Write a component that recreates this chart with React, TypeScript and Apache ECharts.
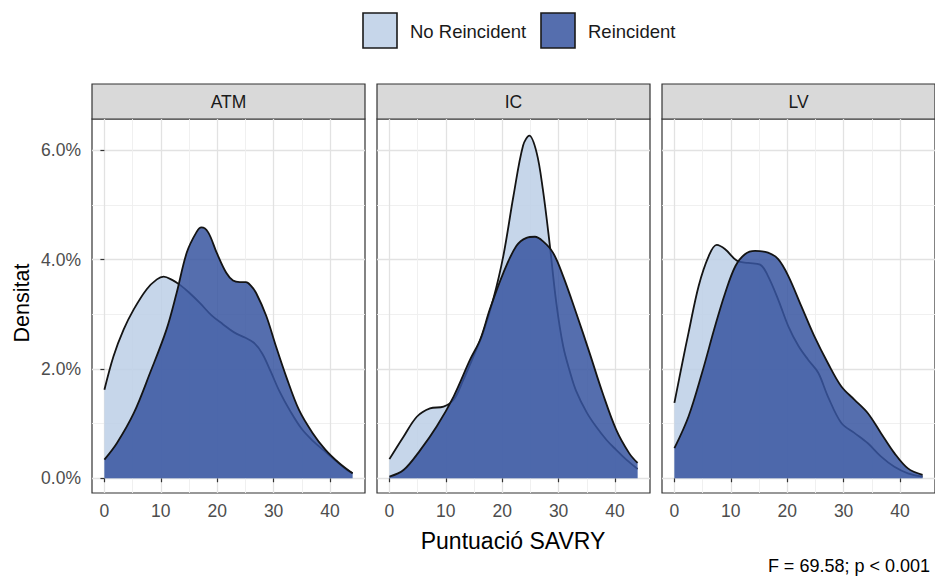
import React, { useEffect, useRef } from 'react';
import * as echarts from 'echarts';

const FONT = '"Liberation Sans", Arial, Helvetica, sans-serif';

const panels = ['ATM', 'IC', 'LV'];
const groups = ['No Reincident', 'Reincident'];
const xAxisTitle = 'Puntuació SAVRY';
const yAxisTitle = 'Densitat';
const note = 'F = 69.58; p < 0.001';

const xTicks = [0, 10, 20, 30, 40];
const xMinorTicks = [5, 15, 25, 35];
const yTicks = [0, 2, 4, 6];
const yMinorTicks = [1, 3, 5];

// density in percent
const atmNoX = [0, 1.6, 3.4, 5.2, 7.5, 9.3, 10.5, 12, 13.5, 15, 17, 19, 21, 23, 25, 26.5, 28, 29.5, 31, 33, 35, 37, 39, 41, 43, 44];
const atmNoY = [1.62, 2.23, 2.72, 3.09, 3.46, 3.64, 3.69, 3.63, 3.53, 3.40, 3.20, 2.98, 2.82, 2.67, 2.57, 2.48, 2.28, 1.95, 1.60, 1.22, 0.90, 0.68, 0.50, 0.32, 0.15, 0.09];
const atmReX = [0, 2.2, 5.2, 8.1, 11, 12.8, 14.6, 16.3, 17.2, 18.4, 19.9, 21.6, 22.8, 24, 25.1, 26, 26.9, 28.7, 30.4, 32.2, 34.5, 36.9, 39.2, 41.6, 44];
const atmReY = [0.34, 0.64, 1.19, 1.93, 2.72, 3.39, 4.13, 4.50, 4.59, 4.50, 4.13, 3.76, 3.62, 3.59, 3.59, 3.52, 3.39, 2.97, 2.42, 1.87, 1.25, 0.83, 0.52, 0.28, 0.09];

const icNoX = [0, 2.5, 4.9, 7.2, 9.6, 11.4, 13.1, 14.9, 16.6, 18.4, 20.2, 22, 23.7, 24.8, 26.1, 27.2, 28.4, 29.6, 30.8, 32, 33.1, 35, 36.6, 38.5, 40.2, 42, 44];
const icNoY = [0.35, 0.76, 1.13, 1.28, 1.31, 1.44, 1.80, 2.23, 2.66, 3.27, 4.07, 5.17, 6.09, 6.27, 5.96, 5.29, 4.30, 3.20, 2.42, 1.95, 1.60, 1.20, 0.95, 0.70, 0.52, 0.34, 0.17];
const icReX = [0, 2.5, 5.5, 8.4, 11.4, 14.3, 16.1, 17.8, 20.2, 22.5, 24.3, 25.8, 27.2, 29, 30.8, 33.1, 35.5, 37.8, 40.2, 42.5, 44];
const icReY = [0.03, 0.15, 0.52, 0.95, 1.50, 2.17, 2.54, 3.09, 3.76, 4.25, 4.40, 4.42, 4.34, 4.13, 3.70, 3.03, 2.29, 1.56, 0.89, 0.46, 0.28];

const lvNoX = [0, 1.4, 2.5, 4.3, 6.1, 7.5, 9, 11.1, 13.1, 15.2, 16.6, 18.4, 20.2, 22, 23.7, 25.5, 27.2, 29.6, 31.9, 34.3, 36.6, 39, 41.4, 44];
const lvNoY = [1.38, 2.11, 2.66, 3.52, 4.07, 4.27, 4.19, 3.98, 3.94, 3.91, 3.70, 3.27, 2.78, 2.42, 2.17, 1.93, 1.50, 1.01, 0.83, 0.64, 0.40, 0.21, 0.09, 0.03];
const lvReX = [0, 2.5, 4.9, 7.2, 9, 10.8, 12.5, 14.3, 16.6, 18.4, 20.2, 22.5, 24.8, 27.2, 29.6, 31.9, 34.3, 36.6, 39, 41.4, 44];
const lvReY = [0.55, 1.13, 1.93, 2.78, 3.39, 3.88, 4.10, 4.16, 4.13, 4.01, 3.70, 3.15, 2.60, 2.11, 1.68, 1.44, 1.19, 0.83, 0.46, 0.18, 0.06];

const curves = [
  [[atmNoX, atmNoY], [atmReX, atmReY]],
  [[icNoX, icNoY], [icReX, icReY]],
  [[lvNoX, lvNoY], [lvReX, lvReY]],
];

const fills = ['rgba(188,207,230,0.85)', 'rgba(55,85,160,0.85)'];
const legendFills = ['#c6d6ea', '#556eae'];

const GRID_LEFTS = [92, 377, 662];
const GRID_TOP = 119;
const GRID_W = 273;
const GRID_H = 374;
const X_MIN = -2.2;
const X_MAX = 46.2;
const Y_MIN = -0.27;
const Y_MAX = 6.575;

export default function App() {
  const ref = useRef<HTMLDivElement>(null);

  useEffect(() => {
    if (!ref.current) return;
    const chart = echarts.init(ref.current, undefined, { renderer: 'svg' });

    const grids: any[] = [];
    const xAxes: any[] = [];
    const yAxes: any[] = [];
    const series: any[] = [];
    const graphics: any[] = [];

    panels.forEach((p, g) => {
      grids.push({
        left: GRID_LEFTS[g], top: GRID_TOP, width: GRID_W, height: GRID_H,
        show: true, borderColor: '#333333', borderWidth: 1.2, backgroundColor: '#ffffff',
        containLabel: false,
      });
      // major x
      xAxes.push({
        type: 'value', gridIndex: g, position: 'bottom', min: X_MIN, max: X_MAX,
        axisLine: { show: false },
        axisTick: { show: true, length: 4, customValues: xTicks, lineStyle: { color: '#333333', width: 1.2 } },
        axisLabel: { show: true, customValues: xTicks, margin: 9, color: '#4d4d4d', fontSize: 17.5, fontFamily: FONT },
        splitLine: { show: true, lineStyle: { color: '#e2e2e2', width: 1.3 } },
      });
      // minor x
      xAxes.push({
        type: 'value', gridIndex: g, position: 'bottom', min: X_MIN, max: X_MAX,
        axisLine: { show: false },
        axisTick: { show: false, customValues: xMinorTicks },
        axisLabel: { show: false, customValues: xMinorTicks },
        splitLine: { show: true, lineStyle: { color: '#eeeeee', width: 0.9 } },
      });
      // major y
      yAxes.push({
        type: 'value', gridIndex: g, position: 'left', min: Y_MIN, max: Y_MAX,
        axisLine: { show: false },
        axisTick: { show: g === 0, length: 4, customValues: yTicks, lineStyle: { color: '#333333', width: 1.2 } },
        axisLabel: {
          show: g === 0, customValues: yTicks, margin: 11, color: '#4d4d4d', fontSize: 17.5, fontFamily: FONT,
          formatter: (v: number) => v.toFixed(1) + '%',
        },
        splitLine: { show: true, lineStyle: { color: '#e2e2e2', width: 1.3 } },
      });
      // minor y
      yAxes.push({
        type: 'value', gridIndex: g, position: 'left', min: Y_MIN, max: Y_MAX,
        axisLine: { show: false },
        axisTick: { show: false, customValues: yMinorTicks },
        axisLabel: { show: false, customValues: yMinorTicks },
        splitLine: { show: true, lineStyle: { color: '#eeeeee', width: 0.9 } },
      });

      curves[g].forEach(([xs, ys], k) => {
        series.push({
          type: 'line', name: groups[k],
          xAxisIndex: 2 * g, yAxisIndex: 2 * g,
          data: xs.map((x: number, i: number) => [x, ys[i]]),
          smooth: 0.35, symbol: 'none', clip: true,
          lineStyle: { color: '#141414', width: 1.8 },
          areaStyle: { color: fills[k], opacity: 1 },
          z: 2 + k,
        });
      });

      // strip
      graphics.push({
        type: 'rect', shape: { x: GRID_LEFTS[g], y: 84, width: GRID_W, height: 35 },
        style: { fill: '#d9d9d9', stroke: '#333333', lineWidth: 1.2 },
      });
      graphics.push({
        type: 'text', x: GRID_LEFTS[g] + GRID_W / 2, y: 101.5,
        style: { text: p, fill: '#1a1a1a', fontSize: 17.5, fontFamily: FONT, align: 'center', verticalAlign: 'middle' },
      });
    });

    // legend
    const legendKeysX = [363, 541];
    const legendTextX = [410, 588];
    groups.forEach((name, k) => {
      graphics.push({
        type: 'rect', shape: { x: legendKeysX[k], y: 13, width: 34, height: 35 },
        style: { fill: legendFills[k], stroke: '#1a1a1a', lineWidth: 1.6 },
      });
      graphics.push({
        type: 'text', x: legendTextX[k], y: 31,
        style: { text: name, fill: '#1a1a1a', fontSize: 18.5, fontFamily: FONT, align: 'left', verticalAlign: 'middle' },
      });
    });

    graphics.push({
      type: 'text', x: 22, y: 303, rotation: Math.PI / 2,
      style: { text: yAxisTitle, fill: '#000000', fontSize: 21.5, fontFamily: FONT, align: 'center', verticalAlign: 'middle' },
    });
    graphics.push({
      type: 'text', x: 513, y: 541,
      style: { text: xAxisTitle, fill: '#000000', fontSize: 23, fontFamily: FONT, align: 'center', verticalAlign: 'middle' },
    });
    graphics.push({
      type: 'text', x: 930, y: 566,
      style: { text: note, fill: '#000000', fontSize: 18, fontFamily: FONT, align: 'right', verticalAlign: 'middle' },
    });

    chart.setOption({
      animation: false,
      backgroundColor: '#ffffff',
      textStyle: { fontFamily: FONT },
      grid: grids,
      xAxis: xAxes,
      yAxis: yAxes,
      series,
      graphic: graphics,
    });

    return () => chart.dispose();
  }, []);

  return <div ref={ref} style={{ position: 'absolute', left: 0, top: 0, width: 935, height: 576 }} />;
}
